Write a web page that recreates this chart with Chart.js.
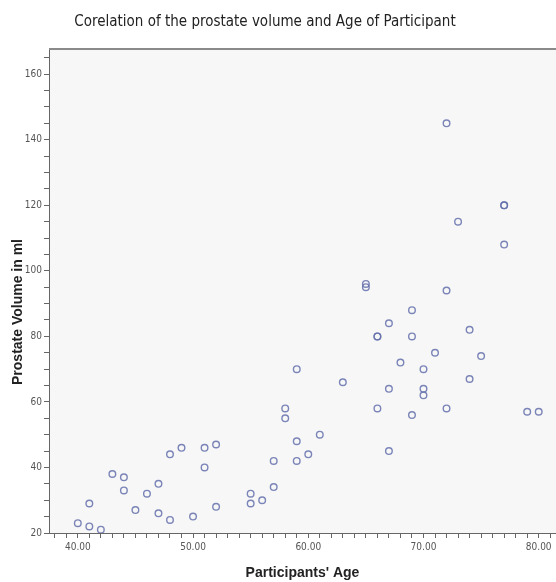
<!DOCTYPE html>
<html>
<head>
<meta charset="utf-8">
<script src="https://cdn.jsdelivr.net/npm/chart.js@4.4.1/dist/chart.umd.min.js"></script>
<style>
  body { margin: 0; background: #fff; }
  #wrap { width: 556px; height: 582px; }
</style>
</head>
<body>
<div id="wrap"><canvas id="chart-age"></canvas></div>
<script>
// participant age vs prostate volume
const ages = [40, 41, 41, 42, 43, 44, 44, 45, 46, 47, 47, 48, 48, 49, 50, 51, 51, 52, 52,
    55, 55, 56, 57, 57, 58, 58, 59, 59, 59, 60, 61, 63, 65, 65, 66, 66, 66, 67, 67, 67,
    68, 69, 69, 69, 70, 70, 70, 71, 72, 72, 72, 73, 74, 74, 75, 77, 77, 77, 79, 80]
const volumes = [23, 22, 29, 21, 38, 37, 33, 27, 32, 35, 26, 44, 24, 46, 25, 46, 40, 47, 28,
    32, 29, 30, 42, 34, 58, 55, 70, 48, 42, 44, 50, 66, 96, 95, 80, 80, 58, 84, 64, 45,
    72, 88, 80, 56, 70, 64, 62, 75, 145, 94, 58, 115, 82, 67, 74, 120, 120, 108, 57, 57]

const xLabels = [40, 50, 60, 70, 80]
const yLabels = [20, 40, 60, 80, 100, 120, 140, 160]

const chartTitle = 'Corelation of the prostate volume and Age of Participant'
const xTitle = "Participants' Age"
const yTitle = 'Prostate Volume in ml'

const narrow = "'Liberation Sans Narrow', 'DejaVu Sans Condensed', Arial, sans-serif"

const frame = {
    id : 'frame',
    beforeDraw : function(chart){
        const a = chart.chartArea
        const ctx = chart.ctx
        ctx.save()
        ctx.fillStyle = '#f7f7f7'
        ctx.fillRect(a.left, a.top, a.right - a.left, a.bottom - a.top)
        ctx.restore()
    },
    afterDraw : function(chart){
        const a = chart.chartArea
        const ctx = chart.ctx
        ctx.save()
        ctx.strokeStyle = '#8a8a8a'
        ctx.lineWidth = 2
        ctx.beginPath()
        ctx.moveTo(a.left, a.top + 1)
        ctx.lineTo(a.right, a.top + 1)
        ctx.stroke()
        // main title
        ctx.fillStyle = '#222'
        ctx.font = '15px ' + narrow
        ctx.textAlign = 'center'
        ctx.textBaseline = 'middle'
        ctx.fillText(chartTitle, 265, 22)
        // y title
        ctx.translate(18, 312)
        ctx.rotate(-Math.PI / 2)
        ctx.font = 'bold 14px "Liberation Sans", Arial, sans-serif'
        ctx.fillText(yTitle, 0, 0)
        ctx.restore()
    }
}

new Chart(document.getElementById('chart-age'),
    {
        type : 'scatter',
        data : {
            datasets : [{
                label : 'Volume',
                data : ages.map((a, i) => ({ x : a, y : volumes[i] })),
                pointStyle : 'circle',
                pointRadius : 3.3,
                pointBorderWidth : 1.4,
                pointBackgroundColor : 'rgba(0,0,0,0)',
                pointBorderColor : 'rgba(100,112,172,0.85)'
            }]
        },
        options : {
            responsive : true,
            maintainAspectRatio : false,
            animation : false,
            layout : { autoPadding : false, padding : { top : 48, left : 0, right : 0, bottom : 0 } },
            plugins : {
                legend : { display : false },
                tooltip : { enabled : false }
            },
            scales : {
                x : {
                    type : 'linear',
                    min : 37.5,
                    max : 81.5,
                    afterBuildTicks : function(scale){
                        const t = []
                        for (let v = 38; v <= 81; v++) t.push({ value : v })
                        scale.ticks = t
                    },
                    afterFit : function(scale){
                        scale.height = 49
                        scale.paddingLeft = 0
                        scale.paddingRight = 0
                    },
                    grid : { drawOnChartArea : false, tickLength : 5, color : '#666', tickColor : '#666' },
                    border : { display : true, color : '#666', width : 1 },
                    ticks : {
                        autoSkip : false,
                        maxRotation : 0,
                        padding : 3,
                        color : '#555',
                        font : { family : narrow, size : 10 },
                        callback : function(v){ return xLabels.includes(v) ? v.toFixed(2) : '' }
                    },
                    title : {
                        display : true,
                        text : xTitle,
                        color : '#222',
                        font : { family : '"Liberation Sans", Arial, sans-serif', size : 14, weight : 'bold' },
                        padding : { top : 0, bottom : 0 }
                    }
                },
                y : {
                    type : 'linear',
                    min : 20,
                    max : 168,
                    afterBuildTicks : function(scale){
                        const t = []
                        for (let v = 20; v <= 165; v += 5) t.push({ value : v })
                        scale.ticks = t
                    },
                    afterFit : function(scale){
                        scale.width = 49
                        scale.paddingTop = 0
                        scale.paddingBottom = 0
                    },
                    grid : { drawOnChartArea : false, tickLength : 5, color : '#666', tickColor : '#666' },
                    border : { display : true, color : '#666', width : 1 },
                    ticks : {
                        autoSkip : false,
                        padding : 2,
                        color : '#555',
                        font : { family : narrow, size : 10 },
                        callback : function(v){ return yLabels.includes(v) ? String(v) : '' }
                    }
                }
            }
        },
        plugins : [frame]
    }
)
</script>
</body>
</html>
